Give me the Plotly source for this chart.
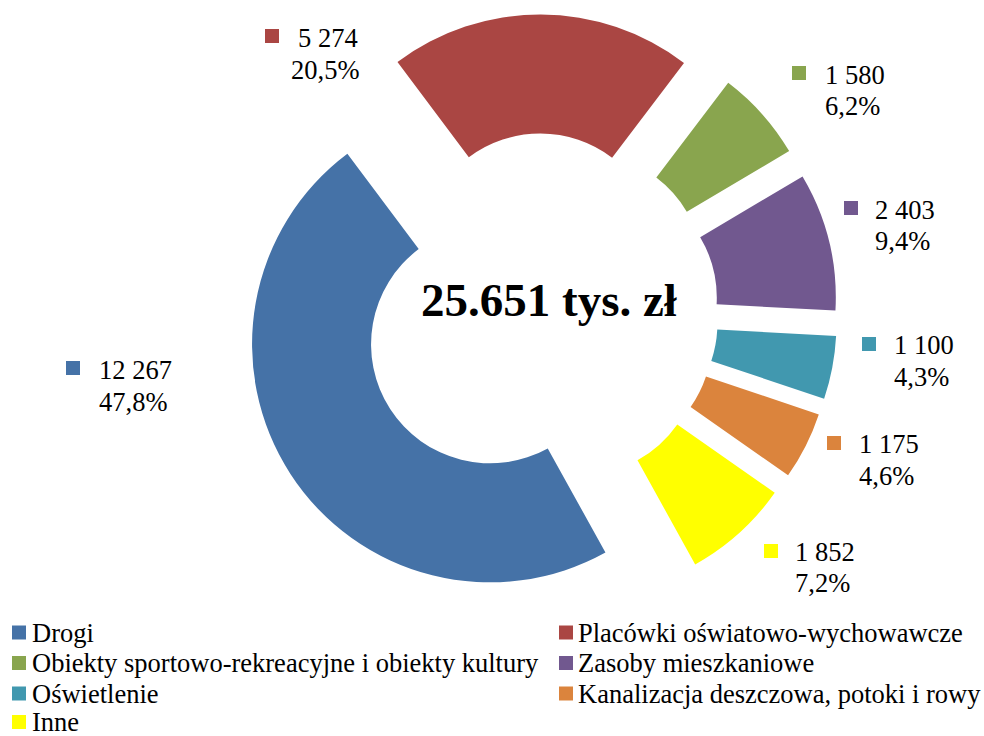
import plotly.graph_objects as go

# ---- data ----
categories = [
    "Drogi",
    "Placówki oświatowo-wychowawcze",
    "Obiekty sportowo-rekreacyjne i obiekty kultury",
    "Zasoby mieszkaniowe",
    "Oświetlenie",
    "Kanalizacja deszczowa, potoki i rowy",
    "Inne",
]
values = [12267, 5274, 1580, 2403, 1100, 1175, 1852]
percent_labels = ["47,8%", "20,5%", "6,2%", "9,4%", "4,3%", "4,6%", "7,2%"]
unit_label = "tys. zł"

# ---- styling / layout ----
colors = ["#4572A7", "#AA4643", "#89A54E", "#71588F", "#4198AF", "#DB843D", "#FFFF00"]
W, H = 984, 736
FONT = "'Liberation Serif', 'Times New Roman', serif"
LABEL_SIZE = 26.5
SQ = 14

# donut geometry (pixels)
cx, cy, radius, pull = 540, 312, 238, 0.25
box = radius * 2 * (1 + pull)

# data-label placement: (square left, square cy, text x for value, value cy, text x for percent, percent cy)
label_pos = [
    (66, 368, 98, 370, 98, 402),
    (265, 36, 297, 38, 290, 70),
    (792, 73, 824, 75, 824, 106),
    (844, 208, 874, 210, 874, 241),
    (862, 344, 893, 345, 893, 377),
    (827, 443, 858, 444, 858, 476),
    (764, 551, 794, 552, 794, 583),
]

# legend placement: two columns, row-major order
legend_cols = [(12, 31), (559, 577)]
legend_rows = [632.5, 663, 693.5, 722]


def px(x):
    return x / W


def py(y):
    return 1 - y / H


def fmt(v):
    return f"{v:,}".replace(",", " ")


fig = go.Figure(
    go.Pie(
        labels=categories,
        values=values,
        hole=0.5,
        pull=pull,
        sort=False,
        direction="clockwise",
        rotation=151,
        marker=dict(colors=colors, line=dict(width=0)),
        textinfo="none",
        hoverinfo="label+value+percent",
        showlegend=False,
        domain=dict(
            x=[px(cx - box / 2), px(cx + box / 2)],
            y=[py(cy + box / 2), py(cy - box / 2)],
        ),
    )
)

shapes = []
annotations = []


def add_square(x0, ycen, color):
    shapes.append(
        dict(
            type="rect", xref="paper", yref="paper",
            x0=px(x0), x1=px(x0 + SQ),
            y0=py(ycen + SQ / 2), y1=py(ycen - SQ / 2),
            fillcolor=color, line=dict(width=0),
        )
    )


def add_text(x, ycen, text, size=LABEL_SIZE, bold=False, anchor="left"):
    annotations.append(
        dict(
            x=px(x), y=py(ycen), xref="paper", yref="paper",
            text=f"<b>{text}</b>" if bold else text,
            showarrow=False, xanchor=anchor, yanchor="middle",
            borderpad=0,
            font=dict(family=FONT, size=size, color="black"),
        )
    )


# data labels
for v, pct, col, (sx, scy, vx, vcy, ppx, pcy) in zip(values, percent_labels, colors, label_pos):
    add_square(sx, scy, col)
    add_text(vx, vcy, fmt(v))
    add_text(ppx, pcy, pct)

# legend
for i, (name, col) in enumerate(zip(categories, colors)):
    r, c = divmod(i, 2)
    sqx, tx = legend_cols[c]
    ycen = legend_rows[r]
    add_square(sqx, ycen, col)
    add_text(tx, ycen, name)

# total in the middle of the donut
total = sum(values)
add_text(549, 300, f"{total / 1000:.3f} {unit_label}", size=47, bold=True, anchor="center")

fig.update_layout(
    width=W,
    height=H,
    margin=dict(l=0, r=0, t=0, b=0),
    paper_bgcolor="white",
    plot_bgcolor="white",
    shapes=shapes,
    annotations=annotations,
    showlegend=False,
)

fig.write_html("out.html")
